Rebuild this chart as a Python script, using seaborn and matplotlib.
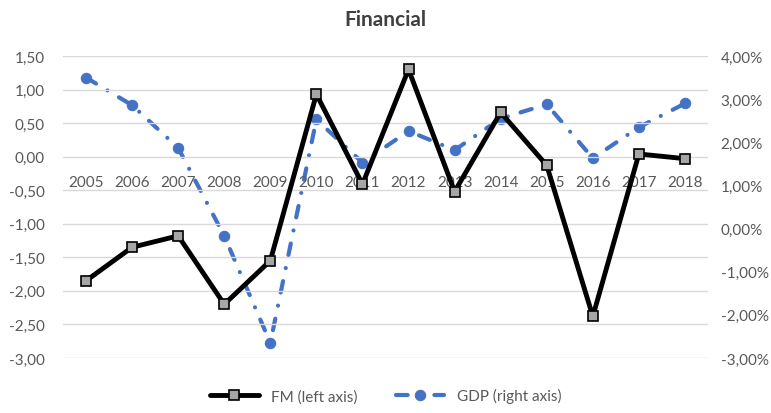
import matplotlib
matplotlib.use("Agg")
import matplotlib.pyplot as plt
import seaborn as sns
import pandas as pd
from matplotlib.ticker import FuncFormatter, MultipleLocator

# Datos
years = ["2005", "2006", "2007", "2008", "2009", "2010", "2011",
         "2012", "2013", "2014", "2015", "2016", "2017", "2018"]
fm_values = [-1.85, -1.35, -1.18, -2.20, -1.55, 0.93, -0.41,
             1.30, -0.52, 0.66, -0.13, -2.38, 0.04, -0.03]
gdp_values = [3.50, 2.86, 1.87, -0.17, -2.65, 2.53, 1.53,
              2.26, 1.82, 2.55, 2.88, 1.63, 2.35, 2.90]

data = pd.DataFrame({"year": years, "FM": fm_values, "GDP": gdp_values})
data["pos"] = range(len(years))

sns.set_style("white")
plt.rcParams["font.family"] = ["Lato", "DejaVu Sans"]

fig = plt.figure(figsize=(7.71, 4.14), dpi=100)
ax = fig.add_axes([0.0817, 0.1329, 0.8366, 0.7294])
ax2 = ax.twinx()

text_color = "#595959"
blue = "#4472C4"

# Línea GDP (eje derecho)
sns.lineplot(data=data, x="pos", y="GDP", ax=ax2, color=blue, linewidth=3,
             marker="o", markersize=7.5, markeredgecolor=blue,
             linestyle=(0, (2.8, 3.2, 0.01, 3.2)), dash_capstyle="round",
             label="GDP (right axis)", legend=False)

# Línea FM (eje izquierdo)
sns.lineplot(data=data, x="pos", y="FM", ax=ax, color="black", linewidth=3.5,
             marker="s", markersize=6.5, markerfacecolor="#A6A6A6",
             markeredgecolor="black", markeredgewidth=1.2,
             label="FM (left axis)", legend=False)

# FM encima de GDP
ax.set_zorder(2)
ax.patch.set_visible(False)

ax.set_xlim(-0.5, len(years) - 0.5)
ax.set_ylim(-3.0, 1.5)
ax2.set_ylim(-3.0, 4.0)

ax.yaxis.set_major_locator(MultipleLocator(0.5))
ax2.yaxis.set_major_locator(MultipleLocator(1.0))
ax.yaxis.set_major_formatter(FuncFormatter(lambda v, p: f"{v:.2f}".replace(".", ",")))
ax2.yaxis.set_major_formatter(FuncFormatter(lambda v, p: f"{v:.2f}%".replace(".", ",")))

ax.grid(axis="y", color="#D9D9D9", linewidth=1)
ax.set_axisbelow(True)

# Etiquetas de años sobre la línea de cero
ax.spines["bottom"].set_position(("data", 0))
ax.set_xticks(data["pos"])
ax.set_xticklabels(years)

for a in (ax, ax2):
    for s in a.spines.values():
        s.set_visible(False)
    a.tick_params(length=0, labelsize=11, labelcolor=text_color)
    a.set_xlabel("")
    a.set_ylabel("")
ax.tick_params(axis="x", pad=13)
ax.tick_params(axis="y", pad=13)
ax2.tick_params(axis="y", pad=9)

fig.suptitle("Financial", x=0.5, y=0.975, fontsize=15, fontweight="bold", color="#404040")

h1, l1 = ax.get_legend_handles_labels()
h2, l2 = ax2.get_legend_handles_labels()
fig.legend(h1 + h2, l1 + l2, loc="lower center", bbox_to_anchor=(0.5, -0.01),
           ncol=2, frameon=False, fontsize=11, labelcolor=text_color,
           handlelength=3.2, columnspacing=2.5)

fig.savefig("out.png", dpi=100)
